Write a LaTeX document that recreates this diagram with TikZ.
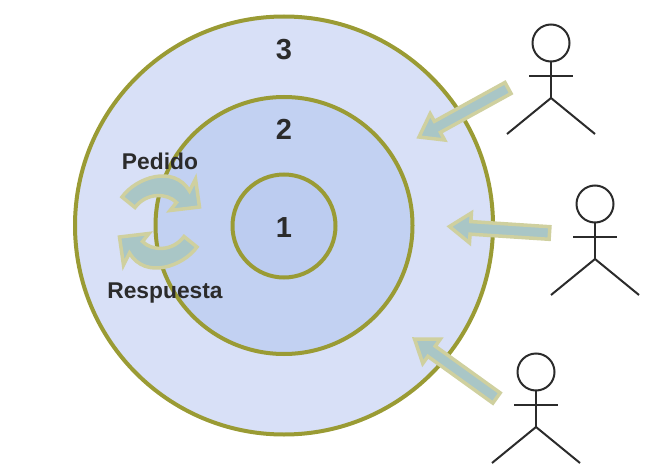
\documentclass[tikz,border=0pt]{standalone}
\usepackage{fontspec}
\setmainfont{Liberation Sans}
\usetikzlibrary{calc}
\definecolor{ringline}{HTML}{9A9B34}
\definecolor{ringa}{HTML}{BCCCF0}
\definecolor{ringb}{HTML}{C2D1F2}
\definecolor{ringc}{HTML}{D8E0F7}
\definecolor{flowfill}{HTML}{A9C6C6}
\definecolor{flowline}{HTML}{CFD09F}
\definecolor{ink}{HTML}{2B2B2B}
\tikzset{
  ring/.style={circle, draw=ringline, line width=4pt, inner sep=0pt, outer sep=0pt},
  flow/.style={draw=flowline, fill=flowfill, line width=3.5pt, miter limit=10},
  lbl/.style={font=\bfseries\fontsize{22.8}{24}\selectfont, text=ink, inner sep=0pt},
  num/.style={font=\bfseries\fontsize{29}{30}\selectfont, text=ink, inner sep=0pt},
  limb/.style={draw=ink, line width=2pt},
  turnarrow/.pic={
    \draw[flow] (-37.5,-25) .. controls (-24,-44) and (14,-58) .. (30,-31)
      -- (36,-43) -- (40,-15) -- (10.5,-11.5) -- (17,-19.5)
      .. controls (8,-29) and (-13,-30) .. (-24.5,-14.5) -- cycle;
  },
  stickman/.pic={
    \draw[limb] (0,0) circle (18.5);
    \draw[limb] (0,18.5) -- (0,55);
    \draw[limb] (-22,33) -- (22,33);
    \draw[limb] (-44,91) -- (0,55) -- (44,91);
  }
}
\newcommand{\blockarrow}[2]{
  \coordinate (hd) at ($(#2)!21pt!(#1)$);
  \draw[flow] ($(#1)!6.3pt!90:(#2)$) -- ($(hd)!6.3pt!90:(#2)$) -- ($(hd)!15pt!90:(#2)$)
    -- (#2) -- ($(hd)!15pt!-90:(#2)$) -- ($(hd)!6.3pt!-90:(#2)$) -- ($(#1)!6.3pt!-90:(#2)$) -- cycle;
}
\begin{document}
\begin{tikzpicture}[x=1pt, y=-1pt]
  \useasboundingbox (0,0) rectangle (645,476);

  \node[ring, fill=ringc, minimum size=418pt] (outer) at (284,225.5) {};
  \node[ring, fill=ringb, minimum size=257pt] (middle) at (284,225.5) {};
  \node[ring, fill=ringa, minimum size=103pt] (inner) at (284,226) {};

  \node[num] (n3) at (284,50) {3};
  \node[num] (n2) at (284,129) {2};
  \node[num] (n1) at (284,228) {1};

  \pic at (159.5,222) {turnarrow};
  \pic[rotate=180] at (159.5,222) {turnarrow};
  \node[lbl] (pedido) at (160,161) {Pedido};
  \node[lbl] (respuesta) at (165,293) {Respuesta};

  \pic at (551,43) {stickman};
  \pic at (595,204) {stickman};
  \pic at (536,372) {stickman};

  \coordinate (t1) at (508,88);
  \coordinate (h1) at (419,137);
  \coordinate (t2) at (549.5,233);
  \coordinate (h2) at (449.5,226.5);
  \coordinate (t3) at (496.5,398);
  \coordinate (h3) at (414.5,339);
  \blockarrow{t1}{h1}
  \blockarrow{t2}{h2}
  \blockarrow{t3}{h3}
\end{tikzpicture}
\end{document}
